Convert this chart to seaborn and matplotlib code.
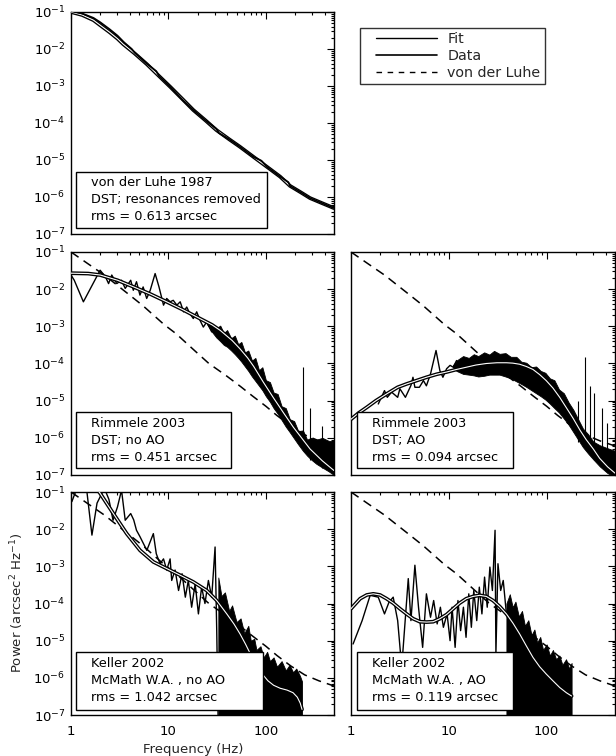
import numpy as np
import matplotlib
matplotlib.use("Agg")
import matplotlib.pyplot as plt
import seaborn as sns
from matplotlib.ticker import FixedLocator, LogLocator, NullFormatter, FixedFormatter, LogFormatterSciNotation
from matplotlib.patches import Rectangle
from matplotlib.lines import Line2D
from matplotlib.legend_handler import HandlerLine2D

sns.set_theme(style="white")
plt.rcParams['font.family'] = ['DejaVu Sans']
plt.rcParams['mathtext.fontset'] = 'dejavusans'

# ---------------- data (power given as log10 of arcsec^2/Hz) ----------------
# von der Luhe model (dashed)
vdl_freq = [1.0, 1.5, 2.2, 3.0, 4.0, 5.5, 6.9, 9.0, 12, 18.5, 26, 38.8, 55, 72.5, 100, 130, 180, 250, 350, 500]
vdl_log = [-1.0, -1.32, -1.62, -1.9, -2.16, -2.45, -2.68, -2.95, -3.2, -3.65, -4.0, -4.32, -4.62, -4.87, -5.15, -5.4, -5.68, -5.92, -6.08, -6.22]

# Panel 1: von der Luhe 1987
p1_fit_freq = [1, 1.3, 1.7, 2.0, 2.5, 3.0, 3.44, 4.5, 6.0, 8.0, 10.5, 14, 18, 24, 31, 42, 54, 75, 102, 140, 177, 230, 284, 380, 500]
p1_fit_log = [-1.0, -1.08, -1.22, -1.36, -1.55, -1.72, -1.87, -2.12, -2.41, -2.73, -3.03, -3.36, -3.65, -3.93, -4.19, -4.44, -4.64, -4.92, -5.18, -5.45, -5.7, -5.88, -6.03, -6.17, -6.3]
p1_data_freq = [1.0, 1.3, 1.7, 2.0, 2.5, 3.0, 3.5, 4.2, 4.5, 6.0, 7.5, 8.0, 10.5, 14, 18, 24, 31, 33, 42, 54, 75, 90, 102, 140, 170, 177, 230, 284, 380, 500]
p1_data_log = [-0.98, -1.04, -1.16, -1.28, -1.47, -1.64, -1.82, -2.0, -2.1, -2.4, -2.6, -2.73, -3.03, -3.38, -3.65, -3.93, -4.16, -4.27, -4.44, -4.64, -4.92, -5.02, -5.18, -5.45, -5.6, -5.7, -5.88, -6.03, -6.17, -6.3]

# Panel 2: Rimmele 2003, no AO
p2_fit_freq = [1, 1.5, 2, 3, 4.4, 6.5, 9.6, 14, 21, 28, 34, 45, 54, 65, 75, 94, 120, 151, 192, 240, 284, 380, 500]
p2_fit_log = [-1.57, -1.58, -1.62, -1.76, -1.94, -2.13, -2.34, -2.55, -2.79, -2.96, -3.11, -3.38, -3.6, -3.85, -4.08, -4.5, -4.93, -5.32, -5.72, -6.05, -6.3, -6.62, -6.88]
p2_data_freq = [1.0, 1.08, 1.34, 1.99, 2.26, 2.43, 2.62, 2.95, 3.3, 3.6, 4.1, 4.36, 4.7, 5.1, 5.5, 5.98, 6.5, 7.3, 8.0, 8.9, 9.6, 10.4, 11.2, 12.2, 13.2, 14.3, 15.4, 16.6, 18.0, 19.5, 21.1, 22.8, 24.7, 27.8, 31.3]
p2_data_log = [-1.62, -1.76, -2.34, -1.49, -1.67, -1.85, -1.62, -1.85, -1.76, -1.98, -1.76, -2.03, -1.8, -2.16, -1.94, -2.25, -2.03, -1.58, -1.94, -2.43, -2.25, -2.34, -2.3, -2.43, -2.34, -2.61, -2.48, -2.66, -2.79, -2.61, -2.84, -3.02, -2.88, -3.15, -3.06]
p2_band_freq = [25, 28, 31, 34, 37, 40, 44, 48, 52, 56, 61, 66, 72, 78, 85, 92, 100, 110, 120, 132, 145, 160, 176, 195, 215, 240, 265, 290, 330, 380, 440, 500]
p2_band_hi = [-2.9, -2.95, -3.05, -2.98, -3.18, -3.1, -3.32, -3.25, -3.48, -3.42, -3.7, -3.65, -3.92, -3.85, -4.18, -4.1, -4.45, -4.5, -4.78, -4.82, -5.15, -5.2, -5.5, -5.55, -5.82, -5.8, -6.05, -6.0, -6.05, -6.0, -6.08, -6.1]
p2_band_lo = [-2.95, -3.15, -3.3, -3.4, -3.5, -3.55, -3.65, -3.75, -3.85, -3.95, -4.08, -4.2, -4.35, -4.47, -4.6, -4.72, -4.88, -5.03, -5.2, -5.35, -5.52, -5.7, -5.85, -6.02, -6.18, -6.35, -6.48, -6.58, -6.7, -6.8, -6.9, -7.0]
p2_spike_freq = [240, 284, 375]
p2_spike_top = [-4.1, -5.2, -5.68]
p2_spike_bot = [-6.3, -6.6, -6.8]

# Panel 3: Rimmele 2003, AO
p3_fit_freq = [1, 1.2, 1.45, 1.8, 2.31, 3.0, 3.7, 4.8, 5.92, 7.5, 9.47, 12, 15.1, 19, 24.2, 31, 38.8, 45, 53, 62, 72.5, 85, 99, 116, 136, 160, 186, 220, 254, 300, 348, 420, 500]
p3_fit_log = [-5.5, -5.33, -5.18, -5.0, -4.82, -4.64, -4.55, -4.45, -4.37, -4.29, -4.23, -4.16, -4.1, -4.04, -4.0, -3.98, -3.98, -3.99, -4.02, -4.08, -4.16, -4.3, -4.46, -4.66, -4.91, -5.2, -5.47, -5.8, -6.05, -6.3, -6.55, -6.78, -6.95]
p3_data_freq = [1.9, 2.2, 2.35, 2.6, 3.0, 3.16, 3.6, 4.1, 4.3, 4.5, 5.0, 5.5, 5.9, 6.5, 7.4, 8.1, 8.7, 9.5, 10.3, 11.1, 12.0]
p3_data_log = [-5.09, -4.73, -4.91, -4.77, -4.91, -4.68, -4.91, -4.59, -4.37, -4.64, -4.64, -4.46, -4.6, -4.28, -3.65, -4.19, -4.37, -4.14, -4.05, -4.1, -3.92]
p3_band_freq = [11, 12, 14, 16, 18, 20, 23, 26, 29, 33, 38, 43, 49, 55, 62, 70, 78, 87, 97, 108, 120, 134, 150, 168, 188, 210, 235, 265, 300, 350, 420, 500]
p3_band_hi = [-4.05, -3.92, -3.8, -3.85, -3.75, -3.8, -3.7, -3.76, -3.66, -3.74, -3.72, -3.82, -3.82, -3.95, -3.98, -4.1, -4.08, -4.2, -4.25, -4.4, -4.45, -4.7, -4.8, -5.05, -5.25, -5.5, -5.75, -5.9, -6.1, -6.2, -6.28, -6.35]
p3_band_lo = [-4.1, -4.2, -4.28, -4.3, -4.32, -4.35, -4.33, -4.3, -4.3, -4.3, -4.35, -4.4, -4.48, -4.55, -4.63, -4.72, -4.8, -4.88, -4.97, -5.08, -5.2, -5.32, -5.48, -5.65, -5.85, -6.05, -6.25, -6.42, -6.58, -6.77, -6.95, -7.05]
p3_spike_freq = [210, 245, 275, 305, 365, 410]
p3_spike_top = [-5.0, -3.83, -4.6, -4.8, -5.2, -5.6]
p3_spike_bot = [-6.1, -6.3, -6.45, -6.6, -6.75, -6.9]

# Panel 4: Keller 2002, no AO
p4_fit_freq = [1.0, 1.4, 1.95, 2.72, 3.73, 5.11, 7.0, 9.6, 13.2, 18.0, 24.7, 31.3, 39.7, 47, 54.3, 62, 70, 80, 92, 105, 120, 140, 165, 190, 210, 225, 235]
p4_fit_log = [-0.55, -0.75, -1.0, -1.58, -2.12, -2.57, -2.88, -3.06, -3.24, -3.42, -3.65, -3.92, -4.28, -4.55, -4.82, -5.1, -5.38, -5.65, -5.9, -6.08, -6.2, -6.28, -6.33, -6.4, -6.52, -6.68, -6.85]
p4_data_freq = [1.02, 1.15, 1.3, 1.45, 1.64, 1.85, 2.2, 2.45, 2.7, 3.0, 3.3, 3.6, 4.1, 4.4, 4.7, 5.1, 6.0, 7.0, 7.5, 8.2, 8.9, 9.6, 10.4, 10.8, 11.7, 12.7, 13.8, 14.9, 16.0, 17.3, 18.8, 20.3, 21.9, 23.7, 25.7, 27.8, 30.1, 31.3, 32.5]
p4_data_log = [-1.26, -0.9, -0.85, -0.95, -2.16, -1.3, -0.9, -1.2, -1.76, -1.4, -0.95, -1.76, -1.58, -1.75, -2.03, -2.2, -2.57, -2.12, -2.66, -2.93, -2.8, -3.1, -2.8, -3.38, -3.1, -3.65, -3.2, -3.83, -3.38, -4.1, -3.47, -4.28, -3.56, -4.0, -3.38, -3.83, -2.48, -4.73, -7.5]
p4_band_freq = [32.5, 35, 38, 42, 45, 50, 55, 60, 66, 70, 76, 80, 88, 95, 103, 110, 120, 130, 145, 160, 175, 190, 205, 224, 235]
p4_band_hi = [-3.3, -3.8, -3.7, -4.2, -4.05, -4.5, -4.4, -4.8, -4.6, -5.0, -4.95, -5.25, -5.15, -5.45, -5.3, -5.55, -5.45, -5.7, -5.55, -5.8, -5.65, -5.85, -5.75, -5.95, -6.1]
p4_band_lo = [-7.5] * 25

# Panel 5: Keller 2002, AO
p5_fit_freq = [1.0, 1.24, 1.45, 1.69, 1.98, 2.31, 2.7, 3.16, 3.7, 4.32, 5.06, 5.92, 6.92, 8.09, 9.47, 11.1, 12.9, 15.1, 17.7, 20.7, 24.2, 28.3, 33.1, 38.8, 45.3, 53, 62, 72.5, 84.8, 99.3, 116, 136, 159, 180]
p5_fit_log = [-4.14, -3.87, -3.77, -3.74, -3.77, -3.87, -3.99, -4.14, -4.28, -4.41, -4.49, -4.5, -4.49, -4.41, -4.3, -4.14, -3.99, -3.87, -3.81, -3.78, -3.81, -3.92, -4.08, -4.28, -4.53, -4.82, -5.14, -5.45, -5.7, -5.9, -6.08, -6.26, -6.4, -6.49]
p5_data_freq = [1.05, 1.3, 1.57, 1.9, 2.2, 2.45, 2.7, 3.0, 3.3, 3.85, 4.1, 4.5, 4.9, 5.4, 5.9, 6.5, 7.0, 7.6, 8.2, 8.8, 9.6, 10.3, 10.8, 11.6, 12.4, 13.2, 14.1, 15.0, 16.0, 17.0, 18.0, 19.3, 20.5, 21.8, 23.2, 24.7, 26.3, 27.9, 29.7, 30.3, 31.8, 33.9, 36.0, 38.8]
p5_data_log = [-5.09, -4.46, -3.78, -3.83, -4.28, -3.96, -3.83, -4.46, -5.72, -3.33, -4.46, -2.97, -4.1, -5.18, -3.74, -4.37, -3.92, -4.55, -4.1, -4.64, -4.28, -5.0, -4.1, -5.18, -3.92, -4.73, -4.1, -4.91, -3.74, -4.64, -3.65, -4.46, -3.56, -4.28, -3.29, -4.1, -3.02, -3.65, -2.03, -5.36, -2.93, -3.65, -3.38, -4.28]
p5_band_freq = [38.8, 42, 45, 48, 52, 56, 60, 65, 70, 75, 80, 86, 92, 100, 108, 116, 125, 135, 145, 158, 170, 180]
p5_band_hi = [-4.0, -3.75, -4.1, -3.95, -4.35, -4.2, -4.6, -4.45, -4.85, -4.7, -5.05, -4.9, -5.25, -5.1, -5.4, -5.25, -5.5, -5.4, -5.65, -5.5, -5.75, -5.6]
p5_band_lo = [-7.5] * 22

labels_p1 = ["von der Luhe 1987", "DST; resonances removed", "rms = 0.613 arcsec"]
labels_p2 = ["Rimmele 2003", "DST; no AO", "rms = 0.451 arcsec"]
labels_p3 = ["Rimmele 2003", "DST; AO", "rms = 0.094 arcsec"]
labels_p4 = ["Keller 2002", "McMath W.A. , no AO", "rms = 1.042 arcsec"]
labels_p5 = ["Keller 2002", "McMath W.A. , AO", "rms = 0.119 arcsec"]
legend_labels = ["Fit", "Data", "von der Luhe"]

ytick_vals = [1e-7, 1e-6, 1e-5, 1e-4, 1e-3, 1e-2, 1e-1]
xtick_vals = [1, 10, 100]
xtick_labels = ["1", "10", "100"]

# ---------------- figure ----------------
W, H = 616, 756
fig = plt.figure(figsize=(W / 100, H / 100), dpi=100)
fig.patch.set_facecolor("white")

def rect(x0, x1, y0, y1):
    return [x0 / W, 1 - y1 / H, (x1 - x0) / W, (y1 - y0) / H]

ax1 = fig.add_axes(rect(71, 334, 12, 234))
ax2 = fig.add_axes(rect(71, 334, 252, 475))
ax3 = fig.add_axes(rect(351, 615, 252, 475))
ax4 = fig.add_axes(rect(71, 334, 492, 715))
ax5 = fig.add_axes(rect(351, 615, 492, 715))

FS = 9.3
TFS = 9.5

def style_axis(ax, ylabels, xlabels):
    ax.set_xscale("log")
    ax.set_yscale("log")
    ax.set_xlim(1, 500)
    ax.set_ylim(1e-7, 1e-1)
    ax.set_facecolor("white")
    for s in ax.spines.values():
        s.set_color("black")
        s.set_linewidth(1.0)
    ax.yaxis.set_major_locator(FixedLocator(ytick_vals))
    ax.yaxis.set_minor_locator(LogLocator(base=10, subs=np.arange(2, 10)))
    ax.xaxis.set_major_locator(FixedLocator(xtick_vals))
    ax.xaxis.set_minor_locator(LogLocator(base=10, subs=np.arange(2, 10)))
    if ylabels:
        ax.yaxis.set_major_formatter(LogFormatterSciNotation())
    else:
        ax.yaxis.set_major_formatter(NullFormatter())
    ax.yaxis.set_minor_formatter(NullFormatter())
    if xlabels:
        ax.xaxis.set_major_formatter(FixedFormatter(xtick_labels))
    else:
        ax.xaxis.set_major_formatter(NullFormatter())
    ax.xaxis.set_minor_formatter(NullFormatter())
    ax.tick_params(which="both", direction="in", top=True, right=True, colors="black",
                   labelsize=TFS, width=0.8)
    ax.tick_params(which="major", length=5)
    ax.tick_params(which="minor", length=2.5)
    ax.tick_params(axis="x", which="major", pad=7)
    ax.tick_params(axis="y", which="major", pad=4)
    ax.grid(False)

def line(ax, f, lg, lw, color="black", z=3, dashed=False):
    sns.lineplot(x=np.array(f, float), y=10 ** np.array(lg, float), ax=ax, color=color,
                 lw=lw, estimator=None, sort=False, errorbar=None, legend=False, zorder=z)
    ln = ax.lines[-1]
    if dashed:
        ln.set_dashes((6, 4))
    return ln

def fitline(ax, f, lg):
    line(ax, f, lg, 2.7, "black", z=5)
    line(ax, f, lg, 0.8, "white", z=6)

def band(ax, f, lo, hi):
    ax.fill_between(np.array(f, float), 10 ** np.array(lo, float), 10 ** np.array(hi, float),
                    color="black", lw=0.6, zorder=2)

def spikes(ax, f, top, bot):
    ax.vlines(np.array(f, float), 10 ** np.array(bot, float), 10 ** np.array(top, float),
              color="black", lw=0.8, zorder=2)

def textbox(ax, x0, x1, y0, y1, lines, tx):
    ax.add_patch(Rectangle((x0, y0), x1 - x0, y1 - y0, transform=ax.transAxes,
                           facecolor="white", edgecolor="black", lw=1.0, zorder=10, clip_on=False))
    for yy, s in zip([0.232, 0.156, 0.080], lines):
        ax.text(tx, yy, s, transform=ax.transAxes, ha="left", va="center", fontsize=FS,
                color="black", zorder=11)

for ax in (ax1, ax2, ax3, ax4, ax5):
    style_axis(ax, ylabels=ax in (ax1, ax2, ax4), xlabels=ax in (ax4, ax5))

# panel 1
fitline(ax1, p1_fit_freq, p1_fit_log)
line(ax1, p1_data_freq, p1_data_log, 1.3, z=7)
textbox(ax1, 0.019, 0.745, 0.027, 0.279, labels_p1, 0.076)

# panel 2
band(ax2, p2_band_freq, p2_band_lo, p2_band_hi)
line(ax2, p2_data_freq, p2_data_log, 1.0, z=2)
spikes(ax2, p2_spike_freq, p2_spike_top, p2_spike_bot)
line(ax2, vdl_freq, vdl_log, 1.1, z=3, dashed=True)
fitline(ax2, p2_fit_freq, p2_fit_log)
textbox(ax2, 0.019, 0.608, 0.031, 0.2825, labels_p2, 0.076)

# panel 3
band(ax3, p3_band_freq, p3_band_lo, p3_band_hi)
line(ax3, p3_data_freq, p3_data_log, 1.0, z=2)
spikes(ax3, p3_spike_freq, p3_spike_top, p3_spike_bot)
line(ax3, vdl_freq, vdl_log, 1.1, z=3, dashed=True)
fitline(ax3, p3_fit_freq, p3_fit_log)
textbox(ax3, 0.023, 0.614, 0.031, 0.2825, labels_p3, 0.078)

# panel 4
band(ax4, p4_band_freq, p4_band_lo, p4_band_hi)
line(ax4, p4_data_freq, p4_data_log, 1.0, z=2)
line(ax4, vdl_freq, vdl_log, 1.1, z=3, dashed=True)
fitline(ax4, p4_fit_freq, p4_fit_log)
textbox(ax4, 0.019, 0.73, 0.022, 0.2825, labels_p4, 0.076)

# panel 5
band(ax5, p5_band_freq, p5_band_lo, p5_band_hi)
line(ax5, p5_data_freq, p5_data_log, 1.0, z=2)
line(ax5, vdl_freq, vdl_log, 1.1, z=3, dashed=True)
fitline(ax5, p5_fit_freq, p5_fit_log)
textbox(ax5, 0.023, 0.614, 0.022, 0.2825, labels_p5, 0.078)

# legend
LFS = 10.3
handles = [Line2D([], [], color="black", lw=1.0),
           Line2D([], [], color="black", lw=1.2),
           Line2D([], [], color="black", lw=1.0, dashes=(4, 4))]
leg = fig.legend(handles, legend_labels, loc="upper left",
                 bbox_to_anchor=(360 / W, 1 - 28 / H), frameon=True, fancybox=False,
                 edgecolor="black", fontsize=LFS, handlelength=5.1, handletextpad=0.7,
                 borderpad=0.3, labelspacing=0.2, borderaxespad=0.0,
                 handler_map={Line2D: HandlerLine2D(xpad=0.84)})
leg.get_frame().set_linewidth(1.0)
leg.get_frame().set_facecolor("white")

fig.text(17 / W, 1 - 603 / H, "Power (arcsec$^2$ Hz$^{-1}$)", rotation=90, ha="center",
         va="center", fontsize=9.5)
fig.text(193 / W, 1 - 749 / H, "Frequency (Hz)", ha="center", va="center", fontsize=9.5)

fig.savefig("out.png", dpi=100, facecolor="white")
